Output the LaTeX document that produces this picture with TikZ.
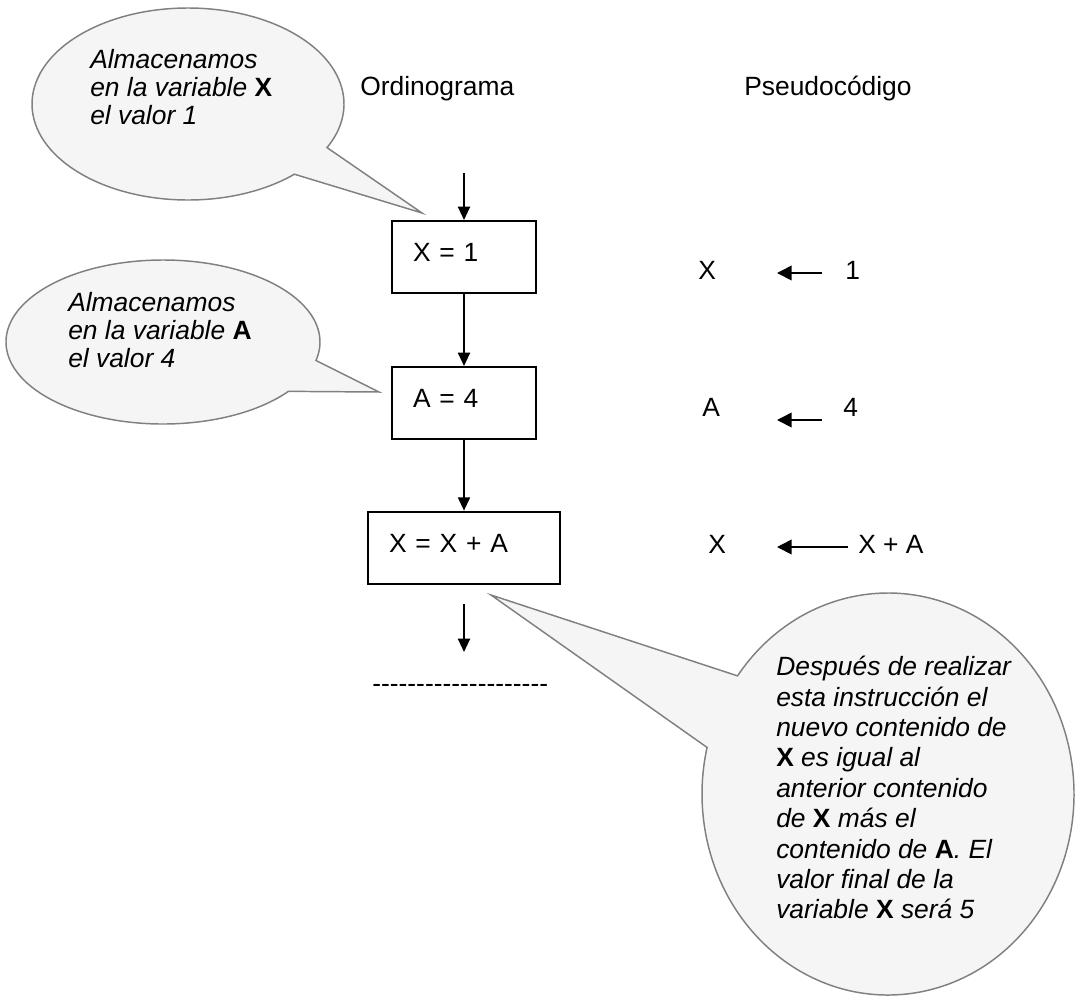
\documentclass[tikz,border=0pt]{standalone}
\usepackage{fontspec}
\setmainfont{Liberation Sans}
\usepackage{tikz}
\usetikzlibrary{arrows.meta,positioning}
\definecolor{bubfill}{HTML}{F5F5F5}
\definecolor{bubline}{HTML}{808080}
\newcommand\vb[1]{{\upshape\bfseries #1}}
\newcommand\fnt[1]{\fontsize{19.8}{#1}\selectfont}
\tikzset{
  ar/.style={-{Triangle[length=10pt,width=9pt]},line width=1.5pt},
  pa/.style={-{Triangle[length=11pt,width=11pt]},line width=1.3pt},
  box/.style={draw,line width=1.5pt,minimum height=54pt,inner xsep=15.75pt,align=left,font={\fnt{24}},text height=14pt,text depth=6.75pt},
  bub/.style={draw=bubline,fill=bubfill,line width=1.1pt},
  note/.style={align=left,inner sep=0pt,anchor=north west},
  lbl/.style={font={\fnt{24}},inner sep=0pt,anchor=base west}
}
\begin{document}
\begin{tikzpicture}[x=0.75pt,y=-0.75pt]
\useasboundingbox (0,0) rectangle (1077,997);
% bocadillos
\filldraw[bub] ([shift={(188,104)}]47:156 and 96) arc[start angle=47,end angle=387,x radius=156,y radius=96] -- (422,213) -- cycle;
\filldraw[bub] ([shift={(163,342)}]37:157 and 82) arc[start angle=37,end angle=373,x radius=157,y radius=82] -- (379,392) -- cycle;
\filldraw[bub] ([shift={(888,794)}]216:186 and 201) arc[start angle=216,end angle=553.4,x radius=186,y radius=201] -- (491,595) -- cycle;
\node[note,font={\fnt{21.2}\itshape}] (n1) at (90,49) {Almacenamos\\en la variable \vb{X}\\el valor 1};
\node[note,font={\fnt{21}\itshape}] (n2) at (68,292) {Almacenamos\\en la variable \vb{A}\\el valor 4};
\node[note,font={\fnt{22.8}\itshape}] (n3) at (776,656) {Después de realizar\\esta instrucción el\\nuevo contenido de\\\vb{X} es igual al\\anterior contenido\\de \vb{X} más el\\contenido de \vb{A}. El\\valor final de la\\variable \vb{X} será 5};
% titulos
\node[lbl] (tord) at (360,95) {Ordinograma};
\node[lbl] (tpse) at (744,95) {Pseudocódigo};
% ordinograma
\node[box,text width=76.5pt] (b1) at (464,257) {X = 1};
\node[box,text width=76.5pt,below=54pt of b1] (b2) {A = 4};
\node[box,text width=112.5pt,below=53pt of b2] (b3) {X = X + A};
\coordinate (top) at (464,173);
\coordinate (outa) at (464,604);
\coordinate (outb) at (464,652);
\draw[ar] (top) -- (b1);
\draw[ar] (b1) -- (b2);
\draw[ar] (b2) -- (b3);
\draw[ar] (outa) -- (outb);
\node[lbl] (dash) at (372,692) {\foreach \k in {1,...,20}{-\kern0pt}};
% pseudocodigo
\foreach \n/\xl/\xr/\yb/\ya/\xs/\ta/\tb in {1/698/845/279/273/822/X/1,2/702/843/416/420/822/A/4,3/708/858/553/547/848/X/X + A}{
  \node[lbl] (pl\n) at (\xl,\yb) {\ta};
  \node[lbl] (pr\n) at (\xr,\yb) {\tb};
  \coordinate (ps\n) at (\xs,\ya);
  \coordinate (pe\n) at (777,\ya);
  \draw[pa] (ps\n) -- (pe\n);
}
\end{tikzpicture}
\end{document}
